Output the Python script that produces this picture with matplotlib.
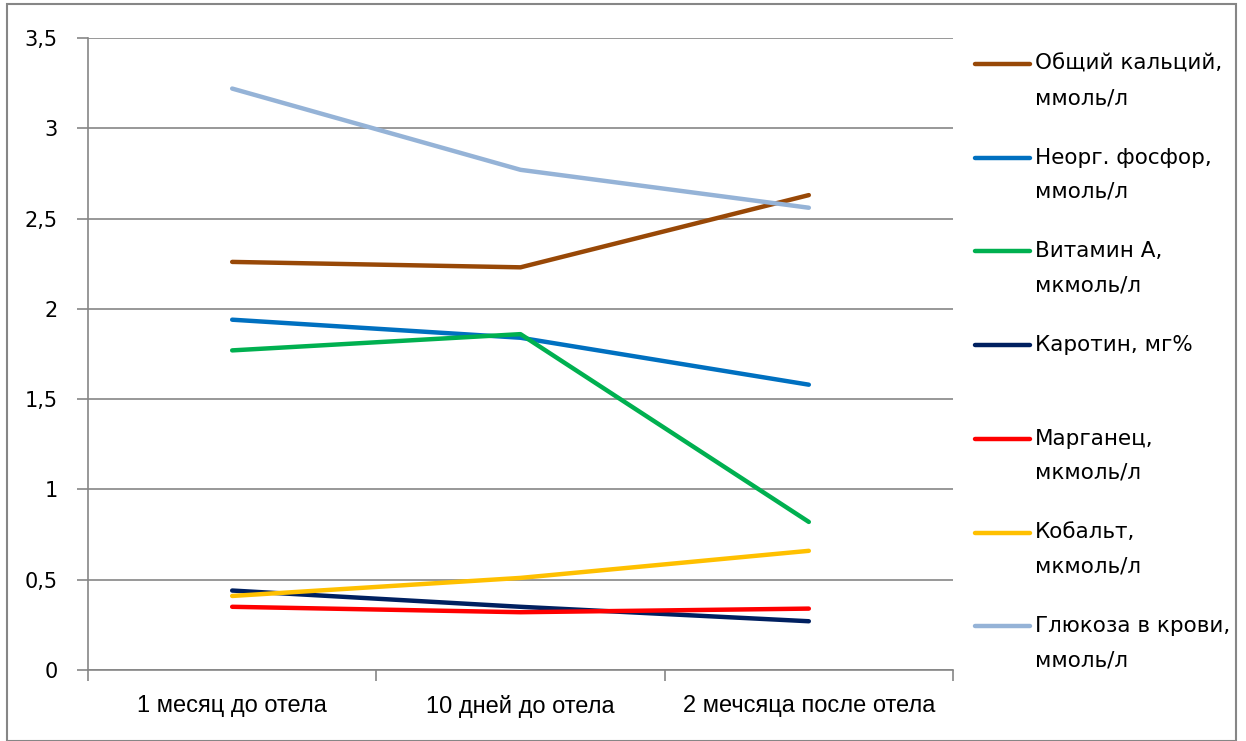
import matplotlib
matplotlib.use("Agg")
import matplotlib.pyplot as plt
from matplotlib.lines import Line2D
from matplotlib.patches import Rectangle

categories = ["1 месяц до отела", "10 дней до отела", "2 мечсяца после отела"]
series_names = ["Общий кальций,\nммоль/л", "Неорг. фосфор,\nммоль/л", "Витамин А,\nмкмоль/л",
                "Каротин, мг%", "Марганец,\nмкмоль/л", "Кобальт,\nмкмоль/л", "Глюкоза в крови,\nммоль/л"]
calcium = [2.26, 2.23, 2.63]
phosphorus = [1.94, 1.84, 1.58]
vitamin_a = [1.77, 1.86, 0.82]
carotene = [0.44, 0.35, 0.27]
manganese = [0.35, 0.32, 0.34]
cobalt = [0.41, 0.51, 0.66]
glucose = [3.22, 2.77, 2.56]
yticks = [0, 0.5, 1, 1.5, 2, 2.5, 3, 3.5]
ytick_labels = ["0", "0,5", "1", "1,5", "2", "2,5", "3", "3,5"]

colors = ["#984807", "#0070C0", "#00B050", "#002060", "#FF0000", "#FFC000", "#95B3D7"]
values = [calcium, phosphorus, vitamin_a, carotene, manganese, cobalt, glucose]

W, H = 1246, 741
fig = plt.figure(figsize=(W / 100, H / 100), dpi=100)
ax = fig.add_axes([88 / W, 1 - 670 / H, (953 - 88) / W, (670 - 38) / H])

x = list(range(len(categories)))
for vals, c in zip(values, colors):
    ax.plot(x, vals, color=c, lw=3.2, solid_capstyle="round", solid_joinstyle="round", zorder=3)

ax.set_xlim(-0.5, 2.5)
ax.set_ylim(0, 3.5)
ax.set_yticks(yticks)
ax.set_yticklabels(ytick_labels, fontsize=15, family="DejaVu Sans")
ax.set_xticks([-0.5, 0.5, 1.5, 2.5])
ax.set_xticklabels([])
ax.set_xticks(x, minor=True)
ax.set_xticklabels(categories, minor=True, fontsize=17, family="Liberation Sans")
ax.tick_params(axis="x", which="minor", length=0, pad=18)
ax.tick_params(axis="x", which="major", length=8, color="#868686", width=1.2, direction="out")
ax.tick_params(axis="y", length=8, color="#868686", width=1.2, pad=14)
ax.grid(axis="y", color="#868686", lw=1.2, zorder=0)
for s in ["top", "right"]:
    ax.spines[s].set_visible(False)
for s in ["left", "bottom"]:
    ax.spines[s].set_color("#868686")
    ax.spines[s].set_linewidth(1.2)

# legend
for k, (name, c) in enumerate(zip(series_names, colors)):
    yy = 64 + 93.7 * k
    fy = 1 - yy / H
    fig.add_artist(Line2D([975 / W, 1030 / W], [fy, fy], color=c, lw=3.2, solid_capstyle="round"))
    for i, part in enumerate(name.split("\n")):
        fig.text(1035 / W, 1 - (yy + 34 * i) / H, part, fontsize=15.5, va="center", ha="left",
                 family="DejaVu Sans")

fig.add_artist(Rectangle((7 / W, 0), (1236 - 7) / W, 1 - 4 / H, transform=fig.transFigure,
                         fill=False, edgecolor="#868686", lw=1.5))

fig.savefig("out.png", dpi=100)
